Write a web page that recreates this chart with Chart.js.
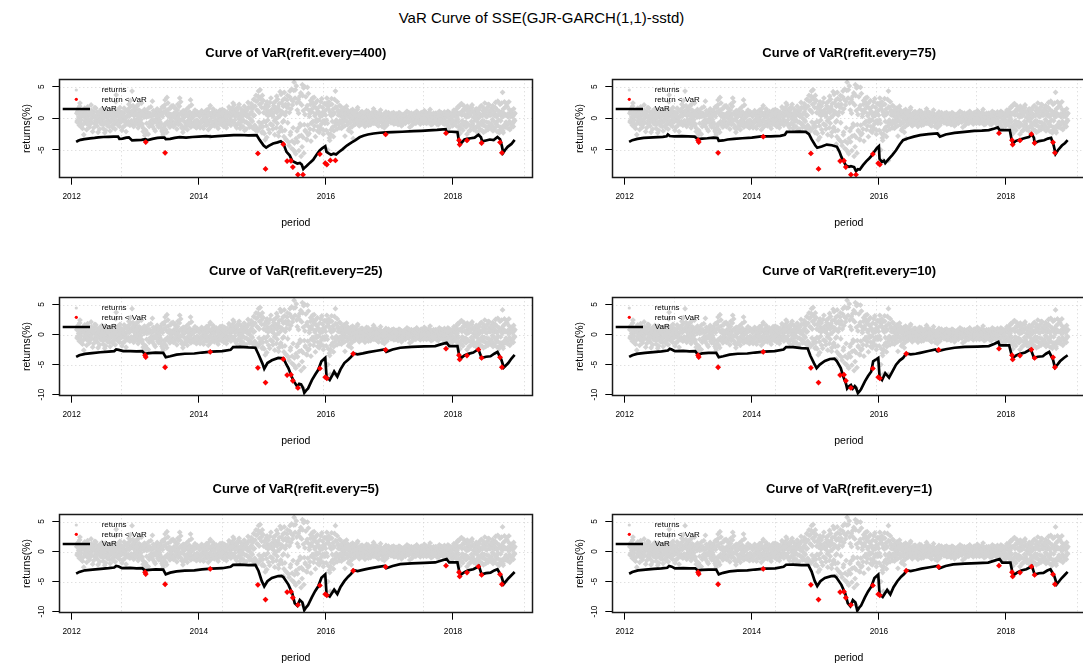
<!DOCTYPE html>
<html>
<head>
<meta charset="utf-8">
<title>VaR Curve of SSE</title>
<script src="https://cdn.jsdelivr.net/npm/chart.js@4.4.1/dist/chart.umd.min.js"></script>
<style>
  html, body { margin: 0; padding: 0; background: #fff; width: 1083px; height: 666px; overflow: hidden; }
  body { position: relative; font-family: "Liberation Sans", Arial, Helvetica, sans-serif; color: #000; }
  #mainTitle { position: absolute; left: 0; top: 9px; width: 1083px; text-align: center; font-size: 15px; line-height: 18px; }
  .panel { position: absolute; width: 541px; height: 218px; }
  .panel canvas { position: absolute; left: 0; top: 0; }
  .panelTitle { position: absolute; text-align: center; font-weight: bold; font-size: 13px; line-height: 16px; white-space: nowrap; }
</style>
</head>
<body>
<div id="mainTitle">VaR Curve of SSE(GJR-GARCH(1,1)-sstd)</div>
<script>
// ---------------------------------------------------------------------------
// Daily SSE returns (%), sampled every 0.01 year; the "b" arrays hold the
// sessions falling half a step later.
// ---------------------------------------------------------------------------
const sampleStep = 0.01;

const returns2012 = [
  0.8,-0.4,1.5,0.2,-1.1,2.4,0.6,-0.3,1.0,-1.6,
  0.3,-2.6,0.9,1.2,-0.5,0.1,-0.9,1.8,-0.2,0.5,
  -1.4,0.7,-0.6,1.3,0.0,-2.1,0.4,1.0,-0.8,0.2,
  1.6,-0.3,-1.2,0.6,-0.1,0.9,-1.7,0.3,1.1,-0.5,
  -0.2,0.8,-1.0,0.4,-2.3,1.4,0.1,-0.7,0.5,-0.4,
  0.2,-1.3,0.7,-0.6,1.2,-0.2,0.3,-1.5,0.6,-0.9,
  0.1,1.0,3.7,-0.8,0.4,-1.1,0.9,-0.3,1.7,-0.6,
  0.2,-1.9,0.5,-0.1,0.8,-1.2,1.4,-0.4,0.3,-0.8,
  1.1,-0.5,2.2,0.6,-1.0,1.9,0.7,4.3,-0.9,1.3,
  0.4,-0.2
];
const returns2012b = [
  -0.6,1.1,-0.2,0.7,1.9,-0.8,0.3,-1.4,0.5,1.2,
  -0.9,0.4,1.6,-0.3,0.8,-1.8,0.2,-0.6,1.3,-1.1,
  0.6,-0.2,2.1,-0.7,0.9,0.3,-1.5,0.5,1.7,-0.4,
  -0.8,1.0,0.2,-2.2,0.7,-0.5,1.2,-0.1,-0.9,1.5,
  0.4,-1.6,0.1,0.9,-0.6,-1.9,0.8,1.1,-1.2,0.3,
  -0.7,0.5,-2.0,1.0,-0.3,0.7,-1.1,0.2,1.4,-0.5,
  -1.7,2.6,0.5,-0.4,1.3,-0.8,0.2,-1.3,0.6,1.0,
  -0.5,0.9,-1.4,0.3,1.6,-0.6,0.1,-2.1,1.2,0.4,
  -0.9,1.5,0.3,-1.1,2.8,-0.4,1.1,-0.7,2.0,-1.3,
  0.9,0.5
];
const returns2013 = [
  1.5,-0.6,0.9,2.0,0.3,-1.1,1.3,-0.4,0.7,-0.2,
  2.4,-0.9,0.5,-1.6,0.2,-2.7,1.1,0.4,-0.8,-2.4,
  0.6,1.6,-1.3,0.8,-0.5,0.3,-1.0,2.7,-0.3,0.5,
  -1.7,0.9,-0.2,1.2,-0.7,0.1,0.8,-1.4,0.4,-0.6,
  1.0,-0.9,-2.0,0.3,-2.6,1.7,-1.2,2.9,-1.8,0.7,
  3.3,-0.5,1.4,-1.1,0.2,-0.8,0.6,1.9,-0.4,0.3,
  -1.3,0.8,0.1,1.5,-0.7,0.4,-0.2,2.2,-1.0,0.6,
  3.2,-0.3,0.9,-1.5,0.5,-2.2,0.2,1.1,-0.6,0.4,
  -0.9,0.7,-1.8,0.3,-0.4,1.0,-0.2,2.9,-0.7,0.5,
  -1.1,0.2,0.8,-0.5,1.3,-1.4,0.6,-0.3,0.9,-1.0
];
const returns2013b = [
  -0.8,1.8,-0.3,0.6,-1.5,2.2,0.1,-0.7,1.1,0.4,
  -1.2,0.9,-2.1,0.5,1.4,0.8,-1.9,0.2,1.0,0.6,
  -2.5,0.3,0.7,-0.9,1.8,-0.4,0.5,-1.3,1.2,-0.6,
  0.8,-2.0,0.4,-0.5,1.5,-1.1,0.3,0.9,-0.2,1.3,
  -1.5,0.6,1.8,-2.3,0.9,-1.6,2.1,-0.8,1.2,-2.2,
  0.5,2.4,-0.9,0.7,-1.4,1.6,-0.3,0.4,-1.0,2.0,
  0.3,-1.2,1.7,-0.6,0.9,-1.7,1.3,0.2,-0.8,1.9,
  -0.4,2.6,-1.1,0.6,-0.2,1.2,-1.6,0.8,0.3,-1.3,
  1.4,-0.5,0.6,-1.0,1.8,-0.3,0.9,-1.4,2.1,0.1,
  0.7,-1.2,0.4,1.1,-0.8,0.6,-1.5,1.0,-0.4,0.8
];
const returns2014 = [
  -0.9,0.3,-1.5,0.6,-0.4,1.0,-0.2,0.5,-1.2,0.8,
  0.2,-0.7,1.3,-0.3,0.4,-1.8,0.9,-0.5,2.0,-0.1,
  -1.1,0.6,0.3,-0.6,1.1,-0.9,0.4,-0.3,0.7,-1.3,
  0.5,-0.2,0.9,-0.8,0.2,0.6,-0.5,1.4,-0.4,0.1,
  -0.6,0.3,0.8,-0.2,0.5,-1.0,0.4,0.7,-0.3,1.5,
  0.2,1.1,-0.4,0.6,2.4,-0.7,0.9,0.3,-1.2,1.0,
  0.4,-0.9,1.8,-0.1,0.6,-1.6,0.8,0.2,-0.5,1.2,
  -0.3,0.9,-1.9,0.5,1.4,-0.6,0.3,-0.8,1.7,0.1,
  -1.4,0.7,-0.2,1.0,-0.5,1.9,0.4,2.9,-1.1,-1.8,
  3.6,-1.5,2.8,1.2,4.3,0.9,-1.6,3.1,-0.8,1.7
];
const returns2014b = [
  0.6,-1.3,0.4,-0.8,1.2,-0.5,0.8,-1.6,0.3,-0.2,
  1.0,-0.4,-1.1,0.7,-0.9,0.5,1.6,-0.3,-1.4,0.6,
  0.9,-0.7,1.5,0.2,-1.2,0.8,-0.5,1.1,-0.9,0.4,
  -1.6,0.7,-0.3,1.3,-0.6,-1.0,0.9,-0.2,0.6,-1.3,
  1.2,-0.8,0.3,-1.5,1.0,0.4,-0.7,1.8,-0.4,0.6,
  -1.1,0.8,1.6,-0.5,0.9,2.1,-0.3,1.4,0.5,-1.5,
  1.3,0.6,-0.8,2.2,-1.0,0.7,1.5,-0.4,1.1,-1.3,
  0.5,1.9,-0.6,0.8,-1.7,1.2,0.4,2.5,-0.9,0.6,
  1.7,-1.2,2.3,-0.4,1.5,-1.6,3.0,0.5,1.9,-1.9,
  2.7,1.3,-2.0,3.5,-0.6,2.2,4.5,-1.2,2.4,-2.3
];
const returns2015 = [
  3.6,-1.3,0.9,-2.4,1.8,-0.6,2.2,-3.0,1.2,0.4,
  -1.8,0.8,2.5,-0.9,0.6,1.4,-1.1,0.3,2.0,-0.4,
  1.6,2.7,-1.5,0.9,3.0,0.2,-2.2,1.3,4.2,-1.4,
  2.4,0.8,-0.6,1.9,-2.9,3.1,0.5,-3.3,1.8,2.9,
  -0.7,2.2,-4.3,3.4,-2.6,1.5,4.6,-3.6,2.7,-5.0,
  5.7,-5.3,4.5,-3.2,2.4,1.3,-1.6,0.8,-2.8,3.5,
  -1.2,-6.0,2.1,5.3,-3.0,4.8,-1.0,0.6,-2.1,1.6,
  -3.4,4.9,-2.6,1.3,0.3,-1.7,2.8,-0.8,1.0,3.2,
  -0.5,1.9,-1.2,0.7,2.4,-0.6,1.5,-2.0,1.1,-0.3,
  0.6,-1.4,2.6,-0.9,0.4,1.7,-2.5,0.8,-0.4,1.2
];
const returns2015b = [
  -2.1,2.8,-0.5,1.6,-3.4,0.7,-1.2,2.6,-0.3,1.9,
  0.6,-2.3,1.1,3.2,-1.0,0.5,-1.7,2.4,0.9,-2.6,
  -0.2,1.3,3.5,-0.8,1.8,-2.8,2.3,0.4,-1.6,3.8,
  1.1,-2.0,2.9,-0.4,4.1,-1.9,2.2,1.0,-3.5,3.6,
  1.7,-3.8,0.9,4.3,-2.2,3.0,-4.8,2.1,-1.5,4.4,
  -3.9,3.2,-5.6,5.1,-2.0,-3.7,3.0,-5.1,2.5,-0.9,
  4.0,-2.7,-4.5,3.6,1.2,-5.5,5.0,-1.9,3.4,-3.3,
  2.0,-1.1,3.9,-2.4,0.7,2.2,-3.6,1.4,-0.6,2.5,
  -1.8,3.3,0.4,-2.9,1.6,-0.2,2.8,-1.3,0.9,-2.2,
  1.9,0.3,-1.7,3.1,-0.5,1.0,-1.9,2.3,-0.8,0.5
];
const returns2016 = [
  2.3,-0.3,2.0,-5.0,-2.4,2.0,-3.5,0.6,-1.8,3.1,
  -0.5,1.4,-2.9,0.8,-1.2,4.3,1.7,-0.9,2.6,-0.6,
  1.2,-1.5,0.5,1.9,-0.8,0.3,-1.3,0.9,-0.2,1.1,
  -2.8,0.4,0.7,-0.5,1.3,-0.9,0.2,-1.6,0.6,-0.3,
  -2.2,0.8,1.4,-0.4,0.1,-1.0,0.5,0.9,-0.6,0.3,
  1.7,-0.2,0.4,-0.8,0.6,-0.3,1.0,0.2,-0.5,0.7,
  -0.9,0.3,0.5,-0.2,1.2,-0.6,0.1,-1.1,0.8,-0.4,
  0.6,0.2,-0.7,0.4,-0.3,1.5,-0.1,0.3,-0.8,0.5,
  0.9,-0.5,0.2,-1.2,0.7,-0.3,1.3,-0.6,0.4,0.1,
  -0.9,0.6,-1.5,0.3,-0.4,0.8,-1.1,0.2,-0.6,0.5
];
const returns2016b = [
  -1.9,3.2,-0.8,1.5,2.6,-3.1,1.0,-2.5,0.4,2.2,
  -1.4,0.6,-2.0,3.0,-0.7,1.8,-0.3,-1.7,1.1,0.5,
  -0.9,2.0,-0.4,0.8,-1.6,1.3,0.2,-0.6,1.6,-1.2,
  0.7,-0.3,1.9,-1.0,0.4,-1.9,0.9,0.3,-0.8,1.2,
  0.5,-1.3,0.2,0.8,-0.5,1.1,-0.9,0.4,-0.2,1.4,
  -0.7,0.6,-1.2,0.3,0.9,-0.4,-0.9,1.0,0.2,-0.6,
  0.5,-1.3,0.8,-0.2,0.4,-0.7,1.1,0.3,-0.5,0.6,
  -1.0,0.2,0.9,-0.4,0.5,-0.8,0.3,1.0,-0.3,-0.6,
  0.4,-1.1,0.7,0.1,-0.5,0.8,-0.2,0.5,-1.3,0.3,
  0.6,-0.4,0.2,-0.9,1.0,-0.3,0.5,-0.7,0.9,-0.1
];
const returns2017 = [
  0.5,-0.3,0.2,-0.6,0.8,-0.1,0.3,-0.9,0.4,0.1,
  -0.4,0.6,-0.2,0.3,-0.7,0.9,0.0,-0.3,0.5,-1.2,
  0.2,0.4,-0.5,0.1,0.7,-0.8,0.3,-0.2,1.0,-0.4,
  -0.6,0.2,-1.4,0.5,0.1,-0.3,0.6,-0.9,0.2,0.8,
  -0.2,0.4,-0.5,1.1,0.3,-0.1,0.6,-0.4,0.2,-0.7,
  0.9,-0.3,0.4,0.1,-0.6,1.2,-0.2,0.5,-0.8,0.3,
  0.7,-0.4,0.1,-0.3,1.4,-0.5,0.2,0.6,-0.9,0.3,
  -0.1,0.5,-0.6,0.8,0.2,-0.4,0.3,-1.0,0.6,-0.2,
  0.4,0.9,-0.3,0.1,-0.7,0.5,-0.9,0.2,-0.5,0.7,
  -0.8,0.3,1.1,-0.4,-1.5,0.6,-0.2,0.4,-0.9,0.5
];
const returns2017b = [
  -0.2,0.6,-0.7,0.3,0.1,-0.5,0.9,-0.3,0.4,-0.8,
  0.7,-0.1,0.5,-1.0,0.2,-0.4,0.8,-0.6,0.3,0.6,
  -0.3,-0.9,0.4,0.7,-0.2,0.5,-0.6,1.1,-0.4,0.2,
  0.9,-0.5,0.3,-0.2,0.8,-1.1,0.4,0.1,-0.7,0.5,
  0.3,-0.8,1.0,-0.3,0.2,-0.6,0.7,0.4,-0.9,0.3,
  -0.4,0.6,-0.1,-0.8,0.5,0.2,-0.5,0.9,-0.3,0.6,
  -0.7,0.3,1.0,-0.2,0.4,-1.0,0.6,-0.4,0.2,0.8,
  -0.5,0.1,0.7,-0.3,-0.9,0.5,0.3,-0.6,1.1,-0.2,
  -0.6,0.4,0.8,-0.7,0.3,-0.2,1.0,-0.9,0.5,0.2,
  0.6,-1.1,0.3,-0.5,0.9,-0.3,0.7,-0.6,0.2,-1.2
];
const returns2018 = [
  0.9,-0.4,1.2,0.3,-0.7,0.6,1.5,-0.2,0.8,-1.3,
  1.9,-2.4,2.2,-1.6,0.5,1.1,-0.8,2.0,-1.2,0.4,
  -0.6,1.3,-2.5,0.7,-1.0,0.3,1.6,-1.9,0.9,-0.5,
  2.1,-0.9,0.2,-1.4,1.0,-0.3,0.6,-2.1,0.4,1.4,
  -0.7,0.1,-1.9,1.8,-1.0,0.5,-0.4,1.2,-2.2,0.8,
  2.4,-1.3,0.3,-0.6,1.7,-1.8,0.9,2.1,-1.1,0.5,
  -0.9,1.6,-0.2,-2.0,1.1,0.4,-1.5,2.5,-0.6,0.3,
  1.3,-1.2,0.6,-2.3,2.2,-0.4,1.0,-1.7,4.1,-2.3,
  0.8,2.6,-1.4,0.5,-0.8,1.9,-1.0,0.2,2.6,-0.5,
  -1.6,0.7,1.2,-0.9,0.3,-1.3,0.6,-0.4
];
const returns2018b = [
  -0.5,1.3,-0.9,0.4,1.0,-1.2,0.2,1.8,-0.6,0.7,
  -1.7,0.9,-1.1,2.3,-0.4,-1.9,1.4,-0.7,0.6,1.6,
  -1.4,0.2,1.9,-0.9,1.2,-2.0,0.5,0.8,-1.3,1.7,
  -0.6,1.1,-1.8,0.7,0.3,-1.5,1.5,-0.2,-1.2,0.9,
  1.3,-1.6,0.6,-0.8,2.0,-1.9,0.4,-1.1,1.6,-0.5,
  0.9,-2.0,1.4,0.3,-1.4,2.2,-0.7,0.5,-1.6,1.3,
  0.6,-1.2,2.0,-0.4,-1.8,0.8,1.7,-0.9,0.4,-2.1,
  2.7,-0.3,1.1,-1.9,0.6,-1.4,2.4,0.2,-2.0,1.5,
  -1.1,0.5,1.8,-0.6,2.3,-1.5,0.7,-0.8,1.4,-1.8,
  0.3,1.0,-1.2,0.6,-0.7,1.5,-0.3,0.8
];
const returnBlocks = [
  [2012.080, returns2012], [2012.085, returns2012b],
  [2013.000, returns2013], [2013.005, returns2013b],
  [2014.000, returns2014], [2014.005, returns2014b],
  [2015.000, returns2015], [2015.005, returns2015b],
  [2016.000, returns2016], [2016.005, returns2016b],
  [2017.000, returns2017], [2017.005, returns2017b],
  [2018.000, returns2018], [2018.005, returns2018b]
];

// Large-loss days: [date (decimal year), return %]
const extremeDays = [
  [2013.155,-3.45],[2013.165,-3.75],[2013.47,-5.45],[2014.18,-2.90],[2014.93,-5.55],
  [2015.05,-8.00],[2015.33,-4.10],[2015.39,-6.75],[2015.45,-6.70],[2015.48,-7.70],
  [2015.56,-8.90],[2015.64,-8.90],[2015.905,-5.65],[2015.99,-7.10],[2016.015,-7.30],
  [2016.07,-6.65],[2016.15,-6.65],[2016.43,-3.20],[2016.94,-2.55],[2017.89,-2.35],
  [2018.095,-3.45],[2018.105,-4.15],[2018.22,-3.50],[2018.40,-2.50],[2018.45,-3.90],
  [2018.74,-3.80],[2018.77,-5.45]
];

// Which large-loss days fall below the VaR of each refit setting
const hits400 = [1,2,4,5,6,7,8,9,10,11,12,13,14,15,16,18,19,20,21,22,24,25,26];
const hits75  = [0,1,2,3,4,5,7,8,9,10,11,12,13,14,19,20,21,22,23,24,25,26];
const hits25  = [0,1,2,3,4,5,6,7,8,9,10,12,13,14,17,18,19,20,21,22,23,24,25,26];
const hits10  = [0,1,2,3,4,5,7,8,9,10,12,13,14,17,18,19,20,21,22,23,24,25,26];
const hits5   = [0,1,2,3,4,5,7,8,9,10,12,13,14,17,18,19,20,21,22,23,24,25,26];
const hits1   = [0,1,2,3,4,5,7,8,9,10,12,13,14,17,18,19,20,21,22,23,24,25,26];

// VaR curves: [date (decimal year), VaR %]
const var400 = [
  [2012.07,-3.72],[2012.10,-3.55],[2012.14,-3.40],[2012.20,-3.30],[2012.29,-3.16],[2012.36,-3.10],
  [2012.42,-3.02],[2012.50,-2.95],[2012.58,-2.92],[2012.66,-2.88],[2012.73,-2.90],[2012.75,-3.25],
  [2012.80,-3.20],[2012.86,-3.05],[2012.90,-3.00],[2012.95,-3.50],[2013.02,-3.45],[2013.10,-3.40],
  [2013.16,-3.30],[2013.20,-3.45],[2013.27,-3.25],[2013.35,-3.10],[2013.40,-3.05],[2013.46,-3.05],
  [2013.48,-3.30],[2013.55,-3.25],[2013.62,-3.10],[2013.70,-2.98],[2013.80,-3.05],[2013.90,-2.95],
  [2014.00,-2.90],[2014.12,-2.82],[2014.20,-2.90],[2014.30,-2.80],[2014.42,-2.72],[2014.55,-2.66],
  [2014.65,-2.64],[2014.78,-2.68],[2014.91,-2.66],[2014.96,-3.45],[2015.02,-4.30],[2015.06,-4.62],
  [2015.10,-4.35],[2015.17,-3.98],[2015.24,-3.80],[2015.29,-3.62],[2015.33,-4.00],[2015.38,-5.30],
  [2015.43,-5.85],[2015.47,-6.70],[2015.51,-6.95],[2015.55,-7.15],[2015.59,-7.05],[2015.62,-7.30],
  [2015.645,-8.00],[2015.67,-7.75],[2015.70,-7.50],[2015.75,-7.00],[2015.80,-6.55],[2015.85,-5.80],
  [2015.90,-5.10],[2015.94,-4.75],[2015.99,-4.40],[2016.01,-5.30],[2016.04,-5.50],[2016.08,-5.75],
  [2016.12,-5.60],[2016.16,-5.70],[2016.20,-5.35],[2016.26,-4.90],[2016.33,-4.30],[2016.40,-3.85],
  [2016.46,-3.50],[2016.53,-3.00],[2016.59,-2.75],[2016.66,-2.55],[2016.75,-2.40],[2016.85,-2.28],
  [2016.95,-2.22],[2017.05,-2.18],[2017.20,-2.12],[2017.38,-2.02],[2017.50,-1.98],[2017.62,-1.92],
  [2017.75,-1.84],[2017.885,-1.72],[2017.90,-2.10],[2017.98,-2.12],[2018.07,-2.18],[2018.09,-3.40],
  [2018.11,-4.15],[2018.14,-3.80],[2018.18,-3.35],[2018.22,-3.25],[2018.28,-3.15],[2018.34,-3.05],
  [2018.40,-2.60],[2018.44,-3.00],[2018.46,-3.65],[2018.52,-3.50],[2018.58,-3.35],[2018.64,-3.45],
  [2018.70,-2.95],[2018.74,-3.30],[2018.77,-4.40],[2018.79,-5.45],[2018.82,-5.00],[2018.86,-4.50],
  [2018.92,-4.05],[2018.97,-3.40]
];
const var75 = [
  [2012.07,-3.72],[2012.12,-3.45],[2012.20,-3.25],[2012.30,-3.10],[2012.45,-3.00],[2012.60,-2.93],
  [2012.66,-2.85],[2012.68,-2.55],[2012.71,-2.80],[2012.78,-2.85],[2012.90,-2.80],[2013.00,-2.85],
  [2013.10,-2.90],[2013.15,-3.30],[2013.22,-3.20],[2013.30,-3.15],[2013.40,-3.05],[2013.46,-3.10],
  [2013.48,-3.55],[2013.55,-3.50],[2013.62,-3.35],[2013.72,-3.25],[2013.85,-3.15],[2014.00,-3.05],
  [2014.15,-2.85],[2014.30,-2.85],[2014.45,-2.78],[2014.52,-2.60],[2014.55,-2.15],[2014.65,-2.15],
  [2014.75,-2.10],[2014.85,-2.13],[2014.90,-2.50],[2014.94,-3.30],[2015.00,-4.30],[2015.03,-4.65],
  [2015.10,-4.45],[2015.18,-4.15],[2015.26,-4.25],[2015.34,-4.50],[2015.38,-5.30],[2015.41,-6.10],
  [2015.45,-6.90],[2015.48,-7.45],[2015.53,-7.65],[2015.56,-7.55],[2015.61,-7.70],[2015.64,-8.35],
  [2015.67,-8.05],[2015.70,-8.10],[2015.75,-7.40],[2015.80,-6.80],[2015.85,-6.30],[2015.89,-5.85],
  [2015.94,-5.10],[2015.97,-4.68],[2016.00,-4.40],[2016.01,-6.40],[2016.05,-6.90],[2016.08,-6.70],
  [2016.10,-7.07],[2016.15,-6.50],[2016.21,-5.80],[2016.27,-5.05],[2016.33,-4.10],[2016.38,-3.46],
  [2016.45,-3.20],[2016.55,-2.90],[2016.65,-2.66],[2016.78,-2.50],[2016.92,-2.40],[2016.96,-2.90],
  [2017.05,-2.55],[2017.19,-2.29],[2017.35,-2.15],[2017.50,-2.00],[2017.62,-1.95],[2017.73,-1.86],
  [2017.82,-1.60],[2017.87,-1.44],[2017.90,-1.86],[2017.98,-1.85],[2018.06,-1.86],[2018.09,-3.46],
  [2018.11,-4.00],[2018.15,-3.60],[2018.22,-3.35],[2018.30,-3.10],[2018.36,-2.95],[2018.41,-2.55],
  [2018.44,-3.10],[2018.45,-3.90],[2018.52,-3.60],[2018.60,-3.46],[2018.66,-3.20],[2018.71,-3.08],
  [2018.75,-4.26],[2018.78,-5.60],[2018.82,-5.00],[2018.88,-4.30],[2018.93,-3.90],[2018.97,-3.46]
];
const var25 = [
  [2012.07,-3.73],[2012.12,-3.45],[2012.21,-3.22],[2012.32,-3.10],[2012.45,-2.95],[2012.58,-2.85],
  [2012.67,-2.77],[2012.70,-2.50],[2012.74,-2.55],[2012.81,-2.77],[2012.92,-2.75],[2013.02,-2.80],
  [2013.11,-2.77],[2013.15,-3.22],[2013.22,-3.10],[2013.32,-3.00],[2013.44,-3.05],[2013.48,-3.79],
  [2013.55,-3.62],[2013.65,-3.35],[2013.78,-3.20],[2013.93,-3.16],[2014.05,-3.00],[2014.20,-2.85],
  [2014.37,-2.77],[2014.50,-2.55],[2014.54,-2.09],[2014.65,-2.05],[2014.78,-2.15],[2014.89,-2.20],
  [2014.94,-3.33],[2015.00,-4.80],[2015.03,-5.70],[2015.08,-4.75],[2015.15,-4.30],[2015.25,-3.90],
  [2015.33,-3.95],[2015.38,-5.00],[2015.41,-5.60],[2015.46,-7.00],[2015.50,-7.85],[2015.55,-8.70],
  [2015.58,-8.20],[2015.61,-8.30],[2015.64,-8.90],[2015.66,-9.70],[2015.69,-9.30],[2015.72,-8.98],
  [2015.78,-7.60],[2015.83,-6.70],[2015.88,-5.88],[2015.93,-4.46],[2015.99,-3.90],[2016.01,-7.00],
  [2016.06,-7.57],[2016.10,-6.80],[2016.13,-6.16],[2016.18,-7.00],[2016.23,-5.80],[2016.29,-4.75],
  [2016.35,-4.20],[2016.40,-3.70],[2016.43,-3.15],[2016.50,-3.30],[2016.58,-3.15],[2016.67,-2.94],
  [2016.80,-2.70],[2016.92,-2.49],[2016.95,-2.88],[2017.05,-2.50],[2017.17,-2.20],[2017.35,-2.05],
  [2017.55,-1.98],[2017.72,-1.92],[2017.82,-1.60],[2017.90,-1.36],[2017.94,-1.92],[2018.07,-1.92],
  [2018.10,-3.62],[2018.13,-3.90],[2018.18,-3.50],[2018.24,-3.22],[2018.32,-3.00],[2018.40,-2.45],
  [2018.45,-3.90],[2018.52,-3.70],[2018.59,-3.62],[2018.65,-3.20],[2018.70,-2.88],[2018.76,-4.18],
  [2018.80,-5.48],[2018.87,-4.75],[2018.92,-4.00],[2018.97,-3.40]
];
const var10 = [
  [2012.07,-3.73],[2012.12,-3.45],[2012.19,-3.22],[2012.32,-3.05],[2012.45,-2.92],[2012.58,-2.80],
  [2012.68,-2.66],[2012.71,-2.37],[2012.74,-2.50],[2012.79,-2.77],[2012.92,-2.72],[2013.02,-2.80],
  [2013.11,-2.77],[2013.15,-3.33],[2013.22,-3.15],[2013.32,-3.05],[2013.44,-3.05],[2013.48,-3.79],
  [2013.55,-3.62],[2013.65,-3.35],[2013.78,-3.20],[2013.93,-3.16],[2014.05,-3.00],[2014.20,-2.85],
  [2014.36,-2.77],[2014.50,-2.50],[2014.54,-2.09],[2014.65,-2.10],[2014.78,-2.25],[2014.88,-2.32],
  [2014.92,-3.50],[2014.98,-4.80],[2015.02,-5.60],[2015.07,-5.00],[2015.15,-4.40],[2015.23,-4.07],
  [2015.30,-4.00],[2015.34,-4.46],[2015.40,-5.60],[2015.44,-7.00],[2015.48,-8.10],[2015.50,-9.00],
  [2015.53,-8.60],[2015.56,-8.40],[2015.59,-9.00],[2015.62,-8.60],[2015.64,-8.87],[2015.67,-9.75],
  [2015.70,-9.40],[2015.72,-9.10],[2015.78,-7.80],[2015.83,-6.90],[2015.88,-6.16],[2015.91,-4.46],
  [2015.95,-4.20],[2015.99,-3.90],[2016.01,-7.00],[2016.05,-7.57],[2016.10,-6.44],[2016.16,-7.18],
  [2016.22,-6.00],[2016.27,-5.03],[2016.33,-4.30],[2016.38,-3.90],[2016.43,-3.15],[2016.50,-3.30],
  [2016.58,-3.20],[2016.65,-3.05],[2016.78,-2.75],[2016.89,-2.49],[2016.92,-2.77],[2017.05,-2.45],
  [2017.19,-2.20],[2017.35,-2.05],[2017.55,-2.00],[2017.73,-1.92],[2017.82,-1.55],[2017.88,-1.24],
  [2017.90,-1.81],[2018.05,-1.81],[2018.09,-3.45],[2018.11,-3.90],[2018.16,-3.50],[2018.22,-3.22],
  [2018.30,-3.00],[2018.39,-2.45],[2018.44,-3.90],[2018.50,-3.70],[2018.58,-3.62],[2018.63,-3.20],
  [2018.68,-2.88],[2018.74,-4.18],[2018.77,-5.48],[2018.81,-5.00],[2018.85,-4.46],[2018.91,-3.90],
  [2018.97,-3.45]
];
const var5 = [
  [2012.07,-3.69],[2012.12,-3.40],[2012.21,-3.13],[2012.33,-3.00],[2012.46,-2.88],[2012.58,-2.78],
  [2012.67,-2.67],[2012.70,-2.39],[2012.74,-2.50],[2012.79,-2.78],[2012.92,-2.74],[2013.02,-2.82],
  [2013.11,-2.78],[2013.15,-3.13],[2013.22,-3.05],[2013.32,-2.98],[2013.44,-3.01],[2013.48,-3.80],
  [2013.55,-3.52],[2013.65,-3.30],[2013.78,-3.18],[2013.93,-3.13],[2014.05,-2.98],[2014.20,-2.85],
  [2014.37,-2.78],[2014.50,-2.55],[2014.54,-2.22],[2014.65,-2.18],[2014.78,-2.25],[2014.89,-2.22],
  [2014.94,-3.24],[2014.99,-4.90],[2015.03,-5.80],[2015.08,-4.94],[2015.15,-4.40],[2015.25,-4.09],
  [2015.30,-4.05],[2015.33,-4.26],[2015.41,-5.51],[2015.47,-6.93],[2015.51,-8.64],[2015.55,-9.03],
  [2015.59,-8.07],[2015.63,-8.47],[2015.66,-9.77],[2015.69,-9.30],[2015.72,-8.92],[2015.78,-7.60],
  [2015.83,-6.60],[2015.88,-5.80],[2015.93,-4.38],[2015.99,-3.80],[2016.01,-7.10],[2016.06,-7.50],
  [2016.13,-6.36],[2016.18,-7.10],[2016.23,-5.90],[2016.29,-4.94],[2016.35,-4.20],[2016.40,-3.70],
  [2016.43,-3.10],[2016.50,-3.25],[2016.58,-3.05],[2016.67,-2.84],[2016.80,-2.60],[2016.92,-2.39],
  [2016.95,-2.78],[2017.05,-2.40],[2017.17,-2.10],[2017.35,-1.98],[2017.55,-1.90],[2017.72,-1.82],
  [2017.82,-1.50],[2017.90,-1.25],[2017.94,-1.82],[2018.07,-1.82],[2018.10,-3.41],[2018.13,-3.80],
  [2018.18,-3.45],[2018.24,-3.13],[2018.32,-2.95],[2018.41,-2.45],[2018.45,-3.80],[2018.52,-3.60],
  [2018.59,-3.52],[2018.65,-3.15],[2018.70,-2.95],[2018.76,-4.09],[2018.80,-5.40],[2018.87,-4.49],
  [2018.92,-3.95],[2018.97,-3.41]
];
const var1 = [
  [2012.07,-3.70],[2012.12,-3.42],[2012.21,-3.15],[2012.33,-3.02],[2012.46,-2.90],[2012.58,-2.80],
  [2012.67,-2.70],[2012.70,-2.40],[2012.74,-2.52],[2012.79,-2.80],[2012.92,-2.75],[2013.02,-2.82],
  [2013.11,-2.80],[2013.15,-3.15],[2013.22,-3.06],[2013.32,-3.00],[2013.44,-3.02],[2013.48,-3.80],
  [2013.55,-3.55],[2013.65,-3.32],[2013.78,-3.18],[2013.93,-3.15],[2014.05,-3.00],[2014.20,-2.86],
  [2014.37,-2.80],[2014.50,-2.55],[2014.54,-2.20],[2014.65,-2.18],[2014.78,-2.26],[2014.89,-2.25],
  [2014.94,-3.30],[2014.99,-4.90],[2015.03,-5.75],[2015.08,-4.95],[2015.15,-4.40],[2015.25,-4.10],
  [2015.30,-4.05],[2015.33,-4.30],[2015.41,-5.55],[2015.47,-7.00],[2015.51,-8.60],[2015.55,-9.10],
  [2015.59,-8.10],[2015.63,-8.50],[2015.66,-9.85],[2015.69,-9.35],[2015.72,-9.00],[2015.78,-7.65],
  [2015.83,-6.65],[2015.88,-5.85],[2015.93,-4.40],[2015.99,-3.85],[2016.01,-7.10],[2016.06,-7.55],
  [2016.13,-6.40],[2016.18,-7.15],[2016.23,-5.95],[2016.29,-4.95],[2016.35,-4.20],[2016.40,-3.72],
  [2016.43,-3.12],[2016.50,-3.25],[2016.58,-3.08],[2016.67,-2.85],[2016.80,-2.62],[2016.92,-2.40],
  [2016.95,-2.80],[2017.05,-2.42],[2017.17,-2.15],[2017.35,-2.00],[2017.55,-1.92],[2017.72,-1.85],
  [2017.82,-1.52],[2017.90,-1.25],[2017.94,-1.85],[2018.07,-1.85],[2018.10,-3.45],[2018.13,-3.85],
  [2018.18,-3.48],[2018.24,-3.15],[2018.32,-2.96],[2018.41,-2.45],[2018.45,-3.85],[2018.52,-3.62],
  [2018.59,-3.55],[2018.65,-3.16],[2018.70,-2.95],[2018.76,-4.10],[2018.80,-5.45],[2018.87,-4.50],
  [2018.92,-3.96],[2018.97,-3.40]
];

// Axis settings
const yearTicks = [2012, 2014, 2016, 2018];
const yTickValues = [-10, -5, 0, 5];
const gridEpochSeconds = [1.35e9, 1.40e9, 1.45e9, 1.50e9, 1.55e9];
const xRange = [2011.805, 2019.248];
const rowYRanges = [[-9.38, 6.16], [-10.19, 6.20], [-10.19, 6.20]];

const panels = [
  { title: 'Curve of VaR(refit.every=400)', curve: var400, hits: hits400 },
  { title: 'Curve of VaR(refit.every=75)',  curve: var75,  hits: hits75 },
  { title: 'Curve of VaR(refit.every=25)',  curve: var25,  hits: hits25 },
  { title: 'Curve of VaR(refit.every=10)',  curve: var10,  hits: hits10 },
  { title: 'Curve of VaR(refit.every=5)',   curve: var5,   hits: hits5 },
  { title: 'Curve of VaR(refit.every=1)',   curve: var1,   hits: hits1 }
];

// ---------------------------------------------------------------------------
const FONT = '"Liberation Sans", Arial, Helvetica, sans-serif';
const GREY = '#d3d3d3';

function decimalYear(ms) {
  const d = new Date(ms);
  const y = d.getUTCFullYear();
  const a = Date.UTC(y, 0, 1), b = Date.UTC(y + 1, 0, 1);
  return y + (ms - a) / (b - a);
}
const gridYears = gridEpochSeconds.map(s => decimalYear(s * 1000));

const greyPoints = [];
returnBlocks.forEach(([start, vals]) => {
  vals.forEach((v, i) => greyPoints.push({ x: start + i * sampleStep, y: v }));
});
extremeDays.forEach(([d, v]) => greyPoints.push({ x: d, y: v }));

// frame geometry inside each panel canvas
const PANEL_W = 541, PANEL_H = 218;
const BOX_LEFT = 59.3, BOX_TOP = 39.3, BOX_RIGHT = 532.3, BOX_BOTTOM = 137.7;
const COL_STEP = 553.4, ROW_STEP = 217.7, FIRST_ROW_TOP = 40;

const rFrame = {
  id: 'rFrame',
  beforeDatasetsDraw(chart) {
    const { ctx, chartArea: a, scales: { x, y } } = chart;
    ctx.save();
    ctx.beginPath();
    ctx.rect(a.left, a.top, a.right - a.left, a.bottom - a.top);
    ctx.clip();
    ctx.strokeStyle = GREY;
    ctx.lineWidth = 1;
    ctx.setLineDash([1, 3]);
    yTickValues.forEach(v => {
      if (v < y.min || v > y.max) return;
      const py = Math.round(y.getPixelForValue(v)) + 0.5;
      ctx.beginPath(); ctx.moveTo(a.left, py); ctx.lineTo(a.right, py); ctx.stroke();
    });
    gridYears.forEach(v => {
      if (v < x.min || v > x.max) return;
      const px = Math.round(x.getPixelForValue(v)) + 0.5;
      ctx.beginPath(); ctx.moveTo(px, a.top); ctx.lineTo(px, a.bottom); ctx.stroke();
    });
    ctx.restore();
  },
  afterDatasetsDraw(chart) {
    const { ctx, chartArea: a, scales: { y } } = chart;
    ctx.save();
    // plot box
    ctx.strokeStyle = '#1a1a1a';
    ctx.lineWidth = 1.5;
    ctx.strokeRect(Math.round(a.left) + 0.5, Math.round(a.top) + 0.5,
                   Math.round(a.right - a.left), Math.round(a.bottom - a.top));
    // vertical y tick labels
    ctx.fillStyle = '#000';
    ctx.font = '8.3px ' + FONT;
    ctx.textAlign = 'center';
    ctx.textBaseline = 'middle';
    yTickValues.forEach(v => {
      if (v < y.min || v > y.max) return;
      const py = y.getPixelForValue(v);
      ctx.save();
      ctx.translate(a.left - 17.6, py);
      ctx.rotate(-Math.PI / 2);
      ctx.fillText(String(v), 0, 0);
      ctx.restore();
    });
    // legend (top-left, no frame)
    const lx = a.left, ly = a.top;
    ctx.fillStyle = GREY;
    ctx.beginPath(); ctx.arc(lx + 17, ly + 10.7, 1.6, 0, Math.PI * 2); ctx.fill();
    ctx.fillStyle = '#ff0000';
    ctx.beginPath(); ctx.arc(lx + 17, ly + 20, 1.6, 0, Math.PI * 2); ctx.fill();
    ctx.strokeStyle = '#000';
    ctx.lineWidth = 2.5;
    ctx.beginPath(); ctx.moveTo(lx + 3.4, ly + 29.7); ctx.lineTo(lx + 30.7, ly + 29.7); ctx.stroke();
    ctx.fillStyle = '#000';
    ctx.font = '8px ' + FONT;
    ctx.textAlign = 'left';
    ctx.fillText('returns', lx + 42.4, ly + 10.7);
    ctx.fillText('return < VaR', lx + 42.4, ly + 20);
    ctx.fillText('VaR', lx + 42.4, ly + 29.7);
    ctx.restore();
  }
};

Chart.defaults.font.family = FONT;
Chart.defaults.color = '#000';

panels.forEach((p, i) => {
  const col = i % 2, row = Math.floor(i / 2);
  const left = col * COL_STEP, top = FIRST_ROW_TOP + row * ROW_STEP;

  const holder = document.createElement('div');
  holder.className = 'panel';
  holder.style.left = left + 'px';
  holder.style.top = top + 'px';
  const canvas = document.createElement('canvas');
  canvas.width = PANEL_W;
  canvas.height = PANEL_H;
  holder.appendChild(canvas);

  const title = document.createElement('div');
  title.className = 'panelTitle';
  title.textContent = p.title;
  title.style.left = BOX_LEFT + 'px';
  title.style.width = (BOX_RIGHT - BOX_LEFT) + 'px';
  title.style.top = (13.3 - 8) + 'px';
  holder.appendChild(title);
  document.body.appendChild(holder);

  const [yMin, yMax] = rowYRanges[row];
  const redPoints = p.hits.map(k => ({ x: extremeDays[k][0], y: extremeDays[k][1] }));
  const curvePoints = p.curve.map(([d, v]) => ({ x: d, y: v }));

  new Chart(canvas, {
    type: 'scatter',
    data: {
      datasets: [
        { type: 'scatter', label: 'return < VaR', data: redPoints, order: 0,
          pointStyle: 'rectRot', pointRadius: 2.9, backgroundColor: '#ff0000', borderWidth: 0 },
        { type: 'line', label: 'VaR', data: curvePoints, order: 1,
          borderColor: '#000', borderWidth: 2.7, pointRadius: 0, tension: 0, fill: false },
        { type: 'scatter', label: 'returns', data: greyPoints, order: 2,
          pointStyle: 'rectRot', pointRadius: 2.9, backgroundColor: GREY, borderWidth: 0 }
      ]
    },
    options: {
      responsive: false,
      animation: false,
      events: [],
      layout: { padding: { left: 0, top: BOX_TOP, right: PANEL_W - BOX_RIGHT, bottom: 0 } },
      plugins: { legend: { display: false }, tooltip: { enabled: false }, title: { display: false } },
      scales: {
        x: {
          type: 'linear', min: xRange[0], max: xRange[1],
          afterBuildTicks: s => { s.ticks = yearTicks.map(v => ({ value: v })); },
          afterFit: s => { s.height = PANEL_H - BOX_BOTTOM; },
          ticks: { callback: v => String(v), font: { size: 8.3 }, color: '#000',
                   padding: 7.4, maxRotation: 0, minRotation: 0, autoSkip: false },
          grid: { display: true, drawOnChartArea: false, drawTicks: true, tickLength: 7,
                  color: '#000', lineWidth: 1 },
          border: { display: false },
          title: { display: true, text: 'period', font: { size: 10.5 }, color: '#000',
                   padding: { top: 0, bottom: 28.4 } }
        },
        y: {
          type: 'linear', min: yMin, max: yMax,
          afterBuildTicks: s => { s.ticks = yTickValues.filter(v => v >= yMin && v <= yMax).map(v => ({ value: v })); },
          afterFit: s => { s.width = BOX_LEFT; },
          ticks: { display: false },
          grid: { display: true, drawOnChartArea: false, drawTicks: true, tickLength: 7,
                  color: '#000', lineWidth: 1 },
          border: { display: false },
          title: { display: true, text: 'returns(%)', font: { size: 10.5 }, color: '#000',
                   padding: { top: 20.4, bottom: 0 } }
        }
      }
    },
    plugins: [rFrame]
  });
});
</script>
</body>
</html>
